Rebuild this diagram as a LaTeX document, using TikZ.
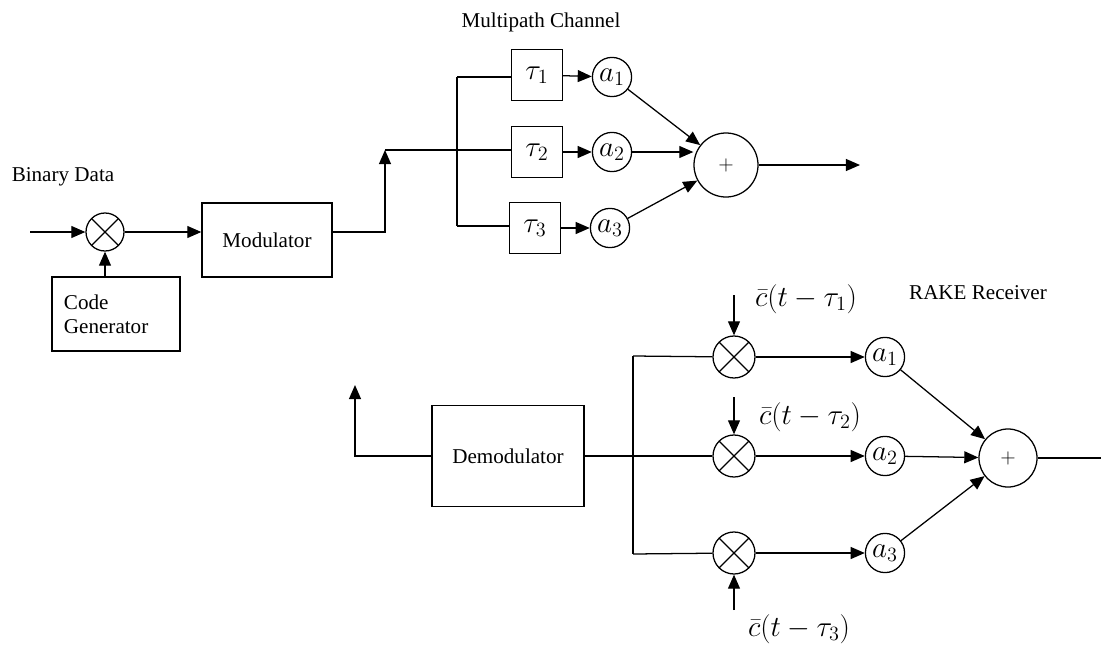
\documentclass[tikz,border=0pt]{standalone}
\usepackage{fontspec}
\setmainfont{Liberation Serif}
\usetikzlibrary{arrows.meta,positioning,calc}

\begin{document}
\begin{tikzpicture}[x=0.025cm,y=-0.025cm,>={Triangle[length=10pt,width=8.5pt]},line width=0.9pt,
  font=\fontsize{15}{17}\selectfont,
  mathfont/.style={font=\fontsize{20}{22}\selectfont},
  delay/.style={draw,minimum size=1.275cm,inner sep=0pt,mathfont},
  gain/.style={draw,circle,minimum size=0.98cm,inner sep=0pt,mathfont},
  mixer/.style={draw,circle,minimum size=#1,inner sep=0pt,
    path picture={\draw (path picture bounding box.south west) -- (path picture bounding box.north east)
                        (path picture bounding box.north west) -- (path picture bounding box.south east);}},
  adder/.style={draw,circle,minimum size=#1,inner sep=0pt,font=\fontsize{14}{16}\selectfont}]
  \useasboundingbox (0,0) rectangle (1101,652);

  % transmitter
  \coordinate (in) at (30,232);
  \node[mixer=0.95cm] (mix) at (105,232) {};
  \node[align=center] (bdata) at (63,177) {Binary Data};
  \node[draw,minimum width=3.25cm,minimum height=1.85cm] (mod) at (267,240) {Modulator};
  \node[draw,align=left,text width=2.6cm,inner xsep=0.3cm,minimum height=1.85cm] (cgen) at (116,314)
    {Code\\Generator};
  \draw[->] (in) -- (mix);
  \draw[->] (mix) -- (mix -| mod.west);
  \draw[->] (mix |- cgen.north) -- (mix);

  % multipath channel
  \coordinate (up) at (385,150);
  \coordinate (busT) at (457,77);
  \coordinate (busB) at (457,226);
  \node (mpc) at (541,22) {Multipath Channel};
  \node[delay] (d1) at (537,75) {$\tau_1$};
  \node[delay] (d2) at (537,152) {$\tau_2$};
  \node[delay] (d3) at (535,228) {$\tau_3$};
  \node[gain] (a1) at (612,77) {$a_1$};
  \node[gain] (a2) at (612,152) {$a_2$};
  \node[gain] (a3) at (610,228) {$a_3$};
  \node[adder=1.6cm] (sum) at (726,165) {$+$};
  \coordinate (out) at (860,165);
  \draw[->] (mod.east |- mix) -| (up);
  \draw (up) -- (up -| d2.west);
  \draw (busT) -- (busB);
  \draw (busT) -- (busT -| d1.west);
  \draw (busB) -- (busB -| d3.west);
  \draw[->] (d1) -- (a1);
  \draw[->] (d2) -- (a2);
  \draw[->] (d3) -- (a3);
  \draw[->] (a1) -- (sum);
  \draw[->] (a2) -- (a2 -| sum.west);
  \draw[->] (a3) -- (sum);
  \draw[->] (sum.east) -- (out);

  % RAKE receiver
  \coordinate (ret) at (355,385);
  \node[draw,minimum width=3.8cm,minimum height=2.525cm] (dem) at (508,456) {Demodulator};
  \coordinate (rbT) at (633,356);
  \coordinate (rbB) at (633,554);
  \node[mixer=1.05cm] (m1) at (734,357) {};
  \node[mixer=1.05cm] (m2) at (734,456) {};
  \node[mixer=1.05cm] (m3) at (734,553) {};
  \node[gain] (b1) at (885,357) {$a_1$};
  \node[gain] (b2) at (885,456) {$a_2$};
  \node[gain] (b3) at (885,553) {$a_3$};
  \node[adder=1.45cm] (sum2) at (1008,458) {$+$};
  \coordinate (out2) at (1101,458);
  \node (rake) at (978,293) {RAKE Receiver};
  \node[mathfont] (c1) at (806,299) {$\bar{c}(t-\tau_1)$};
  \node[mathfont] (c2) at (810,417) {$\bar{c}(t-\tau_2)$};
  \node[mathfont] (c3) at (799,629) {$\bar{c}(t-\tau_3)$};
  \coordinate (c1in) at (734,295);
  \coordinate (c2in) at (734,397);
  \coordinate (c3in) at (734,610);
  \draw[->] (dem.west) -| (ret);
  \draw (dem.east) -- (dem.east -| rbT);
  \draw (rbT) -- (rbB);
  \draw (rbT) -- (m1);
  \draw (rbT |- m2) -- (m2);
  \draw (rbB) -- (m3);
  \draw[->] (c1in) -- (m1);
  \draw[->] (c2in) -- (m2);
  \draw[->] (c3in) -- (m3);
  \draw[->] (m1) -- (b1);
  \draw[->] (m2) -- (b2);
  \draw[->] (m3) -- (b3);
  \draw[->] (b1) -- (sum2);
  \draw[->] (b2) -- (sum2);
  \draw[->] (b3) -- (sum2);
  \draw (sum2.east) -- (out2);
\end{tikzpicture}
\end{document}
